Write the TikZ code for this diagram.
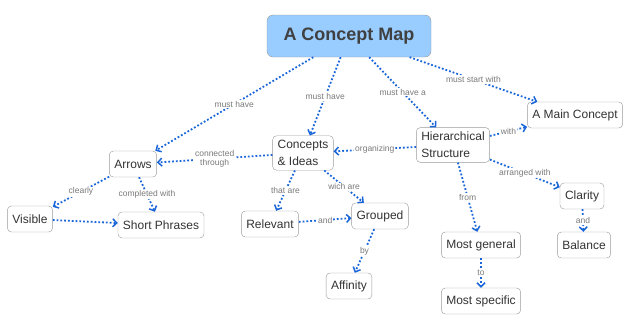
\documentclass[tikz,border=0pt]{standalone}
\usepackage{fontspec}
\setmainfont{Liberation Sans}
\usepackage{xcolor}
\usetikzlibrary{arrows.meta, positioning}
\definecolor{linkblue}{HTML}{1A66D9}
\definecolor{titlefill}{HTML}{99CCFF}
\definecolor{boxline}{HTML}{9A9A9A}
\definecolor{txtgray}{HTML}{333333}
\definecolor{lblgray}{HTML}{7A7A7A}

\begin{document}
\begin{tikzpicture}[
    x=1pt, y=-1pt,
    concept/.style={draw=boxline, fill=white, rounded corners=4pt, minimum height=26pt, inner xsep=5pt, inner ysep=4.5pt, align=left, font=\fontsize{12}{17}\selectfont, text=txtgray},
    mainbox/.style={draw=boxline, fill=titlefill, rounded corners=6pt, minimum width=164pt, minimum height=42pt, font=\fontsize{18}{20}\selectfont\bfseries, text=black!75},
    link/.style={-{Straight Barb[length=4pt, width=8pt, line width=1.5pt]}, linkblue, line width=1.8pt, dotted},
    lbl/.style={midway, fill=white, inner sep=1pt, font=\fontsize{8.5}{9.5}\selectfont, text=lblgray, align=center}
]
    \useasboundingbox (0,0) rectangle (640,333);

    \node[mainbox] (map) at (349,36) {A Concept Map};

    \node[concept] (arrows)   at (133,164) {Arrows};
    \node[concept] (ideas)    at (303,153) {Concepts\\\& Ideas};
    \node[concept] (hier)     at (453,145) {Hierarchical\\Structure};
    \node[concept] (mainc)    at (575,115) {A Main Concept};
    \node[concept] (visible)  at (30,219)  {Visible};
    \node[concept] (phrases)  at (161,225) {Short Phrases};
    \node[concept] (relevant) at (270,224) {Relevant};
    \node[concept] (grouped)  at (380,216) {Grouped};
    \node[concept] (affinity) at (349,286) {Affinity};
    \node[concept] (clarity)  at (582,196) {Clarity};
    \node[concept] (balance)  at (584,245) {Balance};
    \node[concept] (general)  at (481,245) {Most general};
    \node[concept] (specific) at (481,301) {Most specific};

    \draw[link] (map) -- (arrows) node[lbl] {must have};
    \draw[link] (map) -- (ideas) node[lbl] {must have};
    \draw[link] (map) -- (hier) node[lbl] {must have a};
    \draw[link] (map) -- (mainc) node[lbl] {must start with};

    \draw[link] (ideas) -- (arrows) node[lbl] {connected\\through};
    \draw[link] (hier) -- (ideas) node[lbl] {organizing};
    \draw[link] (hier) -- (mainc) node[lbl] {with};
    \draw[link] (hier) -- (clarity) node[lbl] {arranged with};
    \draw[link] (hier) -- (general) node[lbl] {from};

    \draw[link] (arrows) -- (visible) node[lbl] {clearly};
    \draw[link] (arrows) -- (phrases) node[lbl] {completed with};
    \draw[link] (visible) -- (phrases);

    \draw[link] (ideas) -- (relevant) node[lbl] {that are};
    \draw[link] (ideas) -- (grouped) node[lbl] {wich are};
    \draw[link] (relevant) -- (grouped) node[lbl] {and};
    \draw[link] (grouped) -- (affinity) node[lbl] {by};

    \draw[link] (clarity) -- (balance) node[lbl] {and};
    \draw[link] (general) -- (specific) node[lbl] {to};
\end{tikzpicture}
\end{document}
